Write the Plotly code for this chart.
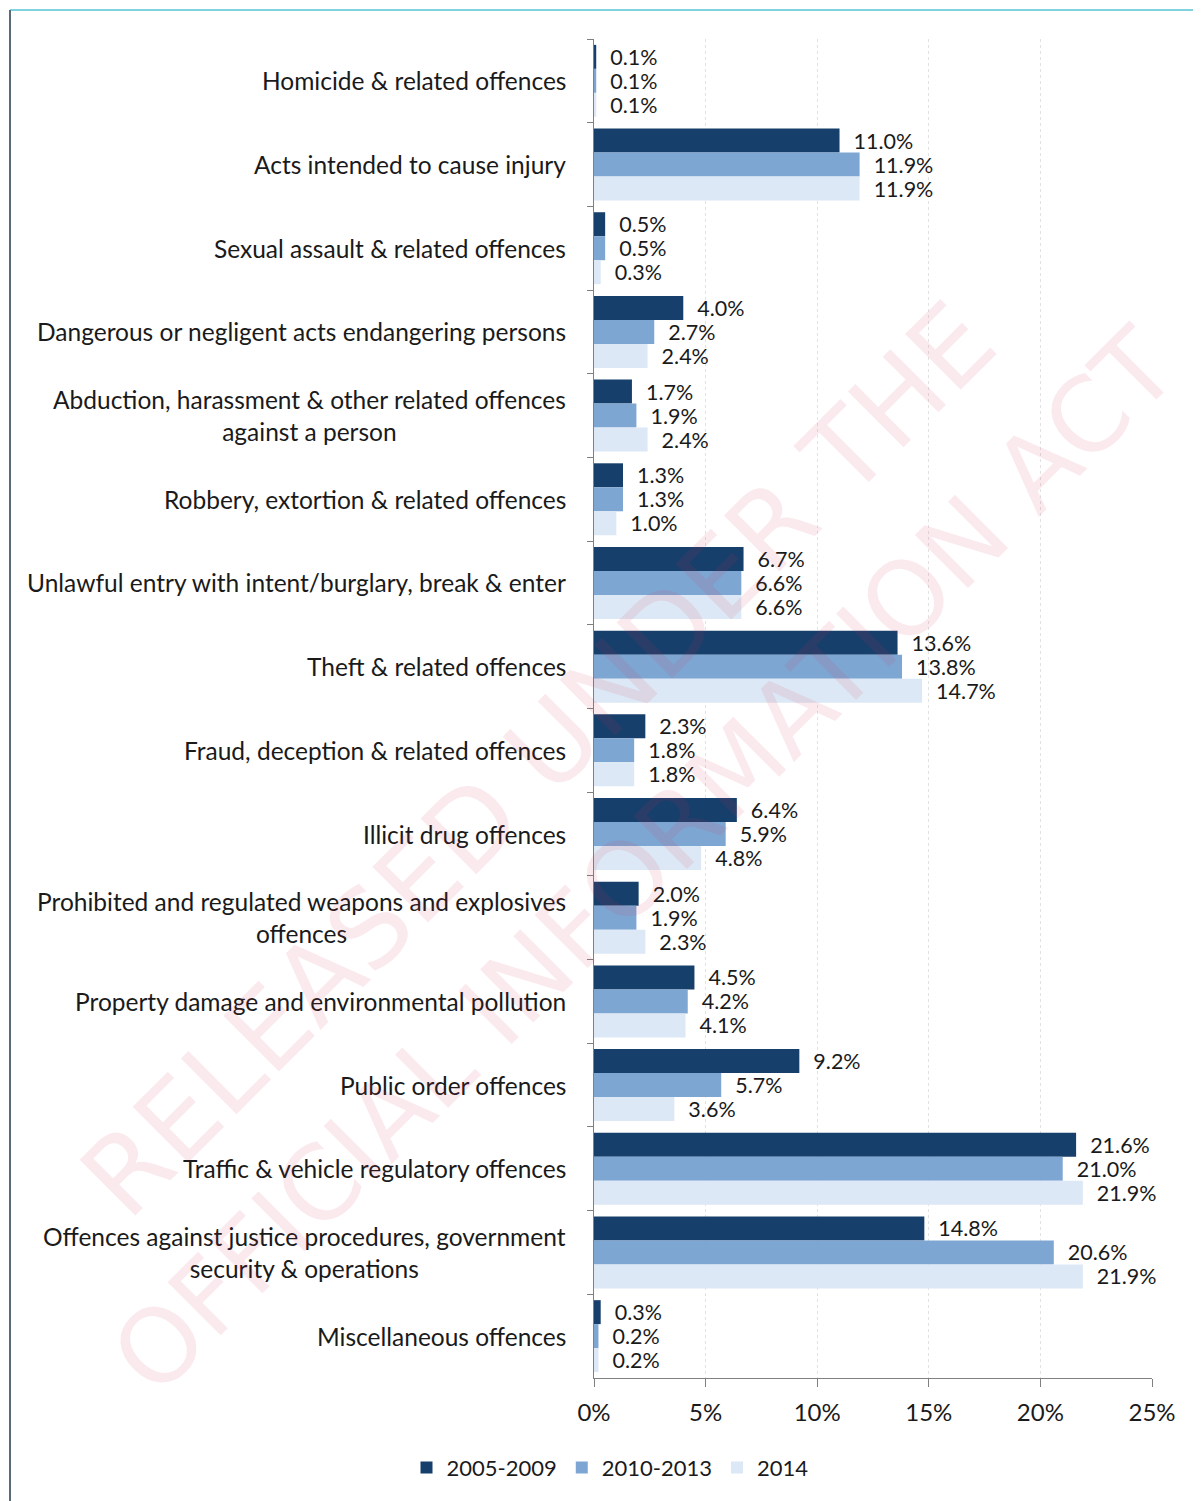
import plotly.graph_objects as go

categories = [
    "Homicide & related offences",
    "Acts intended to cause injury",
    "Sexual assault & related offences",
    "Dangerous or negligent acts endangering persons",
    "Abduction, harassment & other related offences<br>against a person",
    "Robbery, extortion & related offences",
    "Unlawful entry with intent/burglary, break & enter",
    "Theft & related offences",
    "Fraud, deception & related offences",
    "Illicit drug offences",
    "Prohibited and regulated weapons and explosives<br>offences",
    "Property damage and environmental pollution",
    "Public order offences",
    "Traffic & vehicle regulatory offences",
    "Offences against justice procedures, government<br>security & operations",
    "Miscellaneous offences",
]
series_names = ["2005-2009", "2010-2013", "2014"]
v_2005_2009 = [0.1, 11.0, 0.5, 4.0, 1.7, 1.3, 6.7, 13.6, 2.3, 6.4, 2.0, 4.5, 9.2, 21.6, 14.8, 0.3]
v_2010_2013 = [0.1, 11.9, 0.5, 2.7, 1.9, 1.3, 6.6, 13.8, 1.8, 5.9, 1.9, 4.2, 5.7, 21.0, 20.6, 0.2]
v_2014 = [0.1, 11.9, 0.3, 2.4, 2.4, 1.0, 6.6, 14.7, 1.8, 4.8, 2.3, 4.1, 3.6, 21.9, 21.9, 0.2]
x_ticks = [0, 5, 10, 15, 20, 25]
x_tick_labels = ["0%", "5%", "10%", "15%", "20%", "25%"]
watermark = ["RELEASED UNDER THE", "OFFICIAL INFORMATION ACT"]

colors = ["#173f6b", "#7ea6d3", "#dce8f5"]
FONT = "Lato, 'Open Sans', sans-serif"

# page geometry (the html body adds an 8px offset)
OFF = 8
W, H = 1193, 1493
PL, PR, PT, PB = 594, 1152, 39, 1383      # plot area in page pixels
L, T = PL - OFF, PT - OFF
R, B = OFF + W - PR, OFF + H - PB
pw, ph = PR - PL, PB - PT

def px_x(p):
    return (p - PL) / pw

def px_y(p):
    return (PB - p) / ph

fig = go.Figure()
for name, vals, col in zip(series_names, [v_2005_2009, v_2010_2013, v_2014], colors):
    fig.add_trace(go.Bar(
        y=categories, x=vals, name=name, orientation="h",
        marker=dict(color=col, line=dict(width=0)),
        text=[f"  {v:.1f}%" for v in vals],
        textposition="outside", constraintext="none",
        textfont=dict(family=FONT, size=21.5, color="#1a1a1a"),
        cliponaxis=False,
    ))

annotations = []
for c in categories:
    annotations.append(dict(
        x=px_x(568), xref="paper", y=c, yref="y",
        text=c, showarrow=False, xanchor="right", align="center",
        font=dict(family=FONT, size=24.5, color="#1a1a1a"),
    ))

for txt, (cx, cy), fs in zip(watermark, [(538, 762), (644, 864)], [108, 103]):
    annotations.append(dict(
        x=px_x(cx), y=px_y(cy), xref="paper", yref="paper",
        text=txt, showarrow=False, textangle=-45,
        xanchor="center", yanchor="middle",
        font=dict(family="DejaVu Sans", size=fs, color="rgba(216,53,79,0.10)"),
    ))

shapes = [
    dict(type="line", xref="paper", yref="paper",
         x0=px_x(10), x1=px_x(1210), y0=px_y(10), y1=px_y(10),
         line=dict(color="#7fd3df", width=2)),
    dict(type="line", xref="paper", yref="paper",
         x0=px_x(10), x1=px_x(10), y0=px_y(10), y1=px_y(1510),
         line=dict(color="#5a6b78", width=2)),
]

fig.update_layout(
    width=W, height=H,
    margin=dict(l=L, r=R, t=T, b=B),
    paper_bgcolor="white", plot_bgcolor="white",
    barmode="group", bargap=0.14, bargroupgap=0,
    font=dict(family=FONT, size=22, color="#1a1a1a"),
    xaxis=dict(
        range=[0, 25], tickvals=x_ticks, ticktext=x_tick_labels,
        showgrid=True, gridcolor="#e2e2e2", griddash="dot", gridwidth=1,
        showline=True, linecolor="#808080", linewidth=1,
        ticks="outside", ticklen=8, tickcolor="#808080",
        ticklabelstandoff=5,
        tickfont=dict(family=FONT, size=24, color="#1a1a1a"),
        zeroline=False,
    ),
    yaxis=dict(
        autorange="reversed", showticklabels=False,
        showline=True, linecolor="#808080", linewidth=1,
        ticks="outside", ticklen=6, tickcolor="#808080", tickson="boundaries",
        showgrid=False,
    ),
    legend=dict(
        orientation="h", x=px_x(610), xanchor="center",
        y=px_y(1452), yanchor="top",
        font=dict(family=FONT, size=22, color="#1a1a1a"),
        traceorder="normal", itemwidth=30,
    ),
    annotations=annotations,
    shapes=shapes,
)

fig.write_html("out.html")
